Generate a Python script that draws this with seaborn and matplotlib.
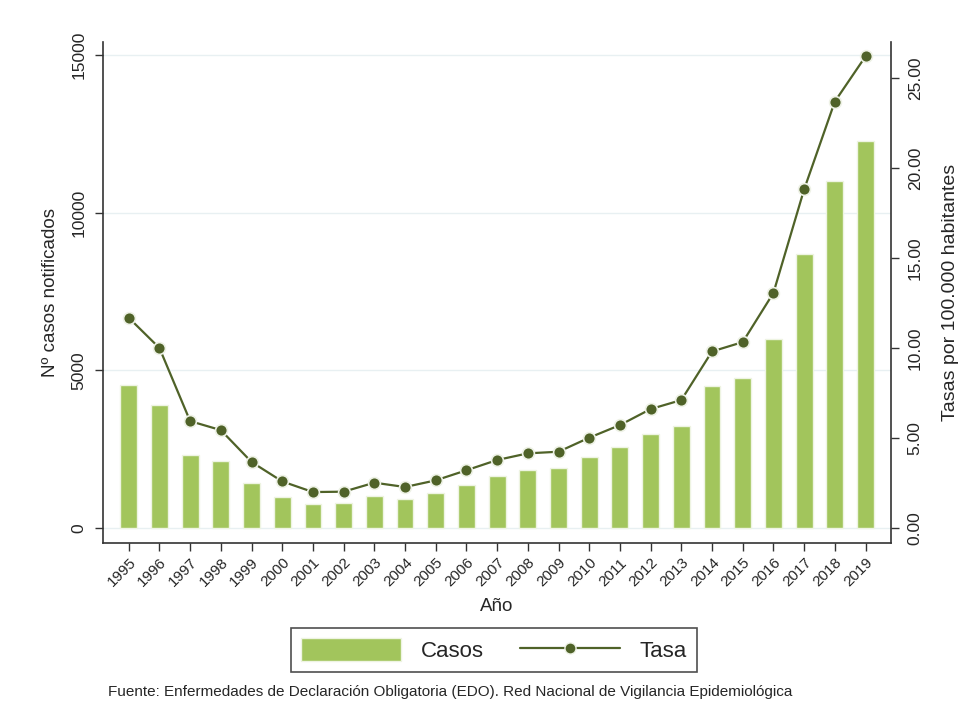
import matplotlib
matplotlib.use("Agg")
import matplotlib.pyplot as plt
import seaborn as sns
import numpy as np
import pandas as pd
from matplotlib.patches import Patch
from matplotlib.lines import Line2D

years = [str(y) for y in range(1995, 2020)]
casos = [4535, 3890, 2305, 2115, 1417, 995, 751, 793, 1004, 930, 1110, 1374,
         1645, 1840, 1893, 2262, 2580, 2981, 3245, 4504, 4747, 6005, 8680, 10995, 12274]
tasa = [11.68, 10.00, 5.94, 5.44, 3.67, 2.59, 2.00, 2.02, 2.52, 2.28, 2.65, 3.21,
        3.78, 4.15, 4.24, 5.02, 5.72, 6.61, 7.11, 9.81, 10.33, 13.06, 18.81, 23.69, 26.2]
left_ticks = [0, 5000, 10000, 15000]
right_ticks = [0, 5, 10, 15, 20, 25]

bar_color = "#A2C55C"
bar_edge = "#EEF4E2"
line_color = "#4F6228"

sns.set_style("white")
plt.rcParams['font.family'] = ['Liberation Sans', 'DejaVu Sans']

df = pd.DataFrame({"Año": years, "Casos": casos, "Tasa": tasa})
df["pos"] = np.arange(len(df))

fig = plt.figure(figsize=(9.76, 7.24), dpi=100)
ax = fig.add_axes([0.1055, 0.25, 0.8074, 0.692])

# gridlines
for t in left_ticks:
    ax.axhline(t, color="#E8F0F2", lw=1.0, zorder=0)

sns.barplot(data=df, x="Año", y="Casos", ax=ax, color=bar_color, width=0.55,
            edgecolor=bar_edge, linewidth=1.0, saturation=1, zorder=2)
ax.set_xlim(-0.84, 24.83)
ax.set_ylim(-476, 15412)
ax.set_yticks(left_ticks)
ax.set_yticklabels([str(t) for t in left_ticks], rotation=90, va="center", fontsize=12.5)
ax.set_xticks(df["pos"])
ax.set_xticklabels(years, rotation=45, ha="right", rotation_mode="anchor", fontsize=11)
ax.tick_params(axis="x", length=6, width=1, color="#333333", direction="out", bottom=True, pad=3)
ax.tick_params(axis="y", length=6, width=1, color="#333333", direction="out", left=True, pad=6)
ax.set_xlabel("Año", fontsize=13.5, labelpad=6)
ax.set_ylabel("Nº casos notificados", fontsize=13.5, labelpad=9)
for s in ["top", "right"]:
    ax.spines[s].set_visible(False)
for s in ["left", "bottom"]:
    ax.spines[s].set_color("#333333")
    ax.spines[s].set_linewidth(1.2)

ax2 = ax.twinx()
sns.lineplot(data=df, x="pos", y="Tasa", ax=ax2, color=line_color, lw=1.6,
             marker="o", markersize=8.5, markerfacecolor=line_color,
             markeredgecolor="#EEF2E6", markeredgewidth=1.2, zorder=5)
ax2.set_xlim(-0.84, 24.83)
ax2.set_ylim(-0.83, 27.0)
ax2.set_yticks(right_ticks)
ax2.set_yticklabels([f"{t:.2f}" for t in right_ticks], rotation=90, va="center", fontsize=12.5)
ax2.tick_params(axis="y", length=6, width=1, color="#333333", direction="out", right=True, pad=6)
ax2.set_ylabel("Tasas por 100.000 habitantes", fontsize=14, labelpad=14)
ax2.set_xlabel("")
for s in ["top", "left", "bottom"]:
    ax2.spines[s].set_visible(False)
ax2.spines["right"].set_color("#333333")
ax2.spines["right"].set_linewidth(1.2)

handles = [Patch(facecolor=bar_color, edgecolor=bar_edge, label="Casos"),
           Line2D([0], [0], color=line_color, lw=1.6, marker="o", markersize=8,
                  markerfacecolor=line_color, markeredgecolor="#EEF2E6", label="Tasa")]
leg = fig.legend(handles=handles, loc="center", bbox_to_anchor=(0.506, 0.102), ncol=2,
                 fontsize=16, frameon=True, fancybox=False, edgecolor="#222222",
                 handlelength=4.5, handleheight=1.2, columnspacing=1.6,
                 handletextpad=0.9, borderpad=0.45)
leg.get_frame().set_linewidth(1.2)

fig.text(0.111, 0.044, "Fuente: Enfermedades de Declaración Obligatoria (EDO). Red Nacional de Vigilancia Epidemiológica",
         fontsize=11, va="center", ha="left")

fig.savefig("out.png", dpi=100, facecolor="white")
